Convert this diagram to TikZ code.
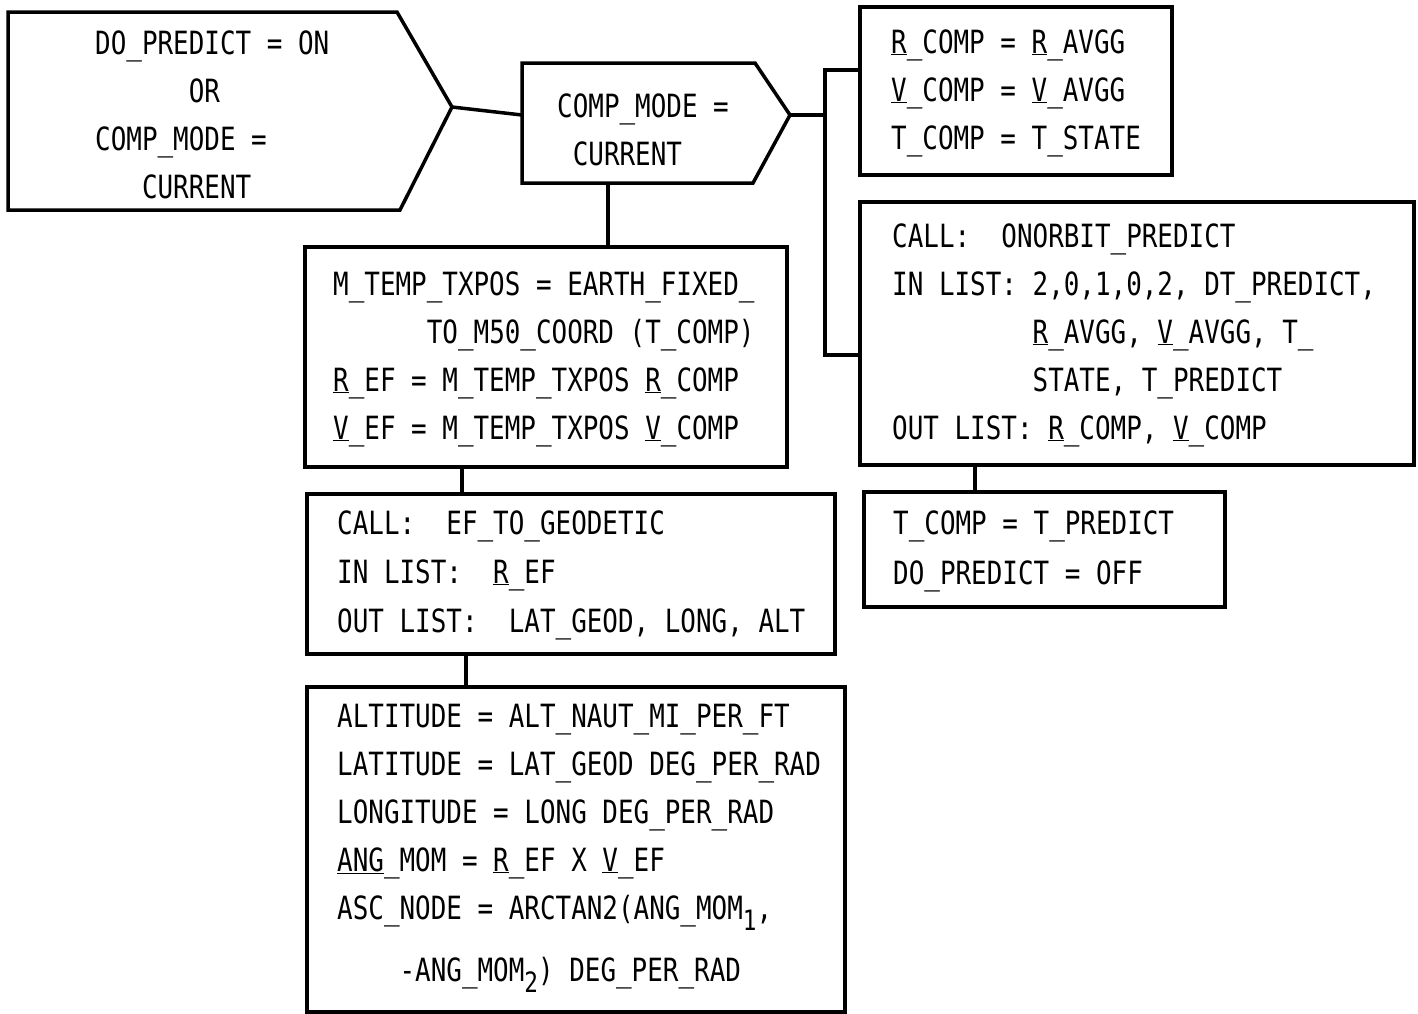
\documentclass[tikz,border=0pt]{standalone}
\usepackage{fontspec}
\newfontfamily\tw[FakeStretch=0.81]{DejaVu Sans Mono}
\newcommand\ul[1]{\underline{#1}}
\newcommand\sbl[1]{\raisebox{-11pt}{\fontsize{28}{28}\selectfont #1}}
\begin{document}
\begin{tikzpicture}[x=1pt,y=-1pt,
  frame/.style={draw, line width=3.5pt, line join=miter},
  box/.style={frame, rectangle, inner sep=0pt, anchor=north west},
  txt/.style={anchor=base west, align=left, inner sep=0pt, font={\tw\fontsize{32}{48}\selectfont}},
  link/.style={line width=3.5pt}]
\useasboundingbox[fill=white] (0,0) rectangle (1418,1013);

% decision shapes
\draw[frame] (8,12) -- (397,12) -- (452,107) -- (400,210) -- (8,210) -- cycle;
\coordinate (p1tip) at (452,107);
\draw[frame] (522,63) -- (755,63) -- (790,115) -- (753,183) -- (522,183) -- cycle;
\coordinate (p2tip) at (790,115);
\coordinate (p2w) at (522,115);
\coordinate (p2s) at (608,183);

% boxes
\node[box, minimum width=312, minimum height=168] (b3) at (858,5) {};
\node[box, minimum width=554, minimum height=263] (b4) at (858,200) {};
\node[box, minimum width=361, minimum height=115] (b5) at (862,490) {};
\node[box, minimum width=482, minimum height=220] (b6) at (303,245) {};
\node[box, minimum width=528, minimum height=160] (b7) at (305,492) {};
\node[box, minimum width=538, minimum height=325] (b8) at (305,685) {};

% texts (anchored at the baseline of their last line)
\node[txt] (t1) at (95,198) {DO\_PREDICT~=~ON\\
\phantom{XXXXXX}OR\\
COMP\_MODE~=\\
\phantom{XXX}CURRENT};
\node[txt] (t2) at (557,165) {COMP\_MODE~=\\
\phantom{X}CURRENT};
\node[txt] (t3) at (891,149) {\ul{R}\_COMP~=~\ul{R}\_AVGG\\
\ul{V}\_COMP~=~\ul{V}\_AVGG\\
T\_COMP~=~T\_STATE};
\node[txt] (t4) at (892,439) {CALL:~~ONORBIT\_PREDICT\\
IN~LIST:~2,0,1,0,2,~DT\_PREDICT,\\
\phantom{XXXXXXXXX}\ul{R}\_AVGG,~\ul{V}\_AVGG,~T\_\\
\phantom{XXXXXXXXX}STATE,~T\_PREDICT\\
OUT~LIST:~\ul{R}\_COMP,~\ul{V}\_COMP};
\node[txt, font={\tw\fontsize{32}{50}\selectfont}] (t5) at (893,584) {T\_COMP~=~T\_PREDICT\\
DO\_PREDICT~=~OFF};
\node[txt] (t6) at (333,439) {M\_TEMP\_TXPOS~=~EARTH\_FIXED\_\\
\phantom{XXXXXX}TO\_M50\_COORD~(T\_COMP)\\
\ul{R}\_EF~=~M\_TEMP\_TXPOS~\ul{R}\_COMP\\
\ul{V}\_EF~=~M\_TEMP\_TXPOS~\ul{V}\_COMP};
\node[txt, font={\tw\fontsize{32}{49}\selectfont}] (t7) at (337,632) {CALL:~~EF\_TO\_GEODETIC\\
IN~LIST:~~\ul{R}\_EF\\
OUT~LIST:~~LAT\_GEOD,~LONG,~ALT};
\node[txt] (t8) at (337,981) {ALTITUDE~=~ALT\_NAUT\_MI\_PER\_FT\\
LATITUDE~=~LAT\_GEOD~DEG\_PER\_RAD\\
LONGITUDE~=~LONG~DEG\_PER\_RAD\\
\ul{ANG}\_MOM~=~\ul{R}\_EF~X~\ul{V}\_EF\\
ASC\_NODE~=~ARCTAN2(ANG\_MOM\sbl{1},\\[14pt]
\phantom{XXXX}-ANG\_MOM\sbl{2})~DEG\_PER\_RAD};

% connectors
\coordinate (bj) at (825,115);
\coordinate (bt) at (825,70);
\coordinate (bb) at (825,355);
\coordinate (c67) at (462,0);
\coordinate (c78) at (466,0);
\coordinate (c45) at (975,0);
\draw[link] (p1tip) -- (p2w);
\draw[link] (p2tip) -- (bj);
\draw[link] (b3.west |- bt) -- (bt) -- (bb) -- (b4.west |- bb);
\draw[link] (p2s) -- (p2s |- b6.north);
\draw[link] (b6.south -| c67) -- (b7.north -| c67);
\draw[link] (b7.south -| c78) -- (b8.north -| c78);
\draw[link] (b4.south -| c45) -- (b5.north -| c45);
\end{tikzpicture}
\end{document}
